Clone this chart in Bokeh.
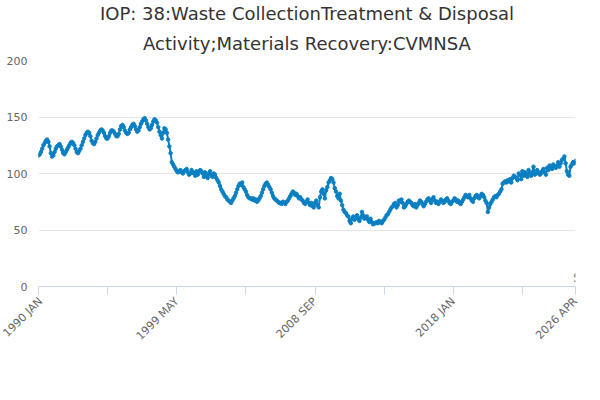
import math
from bokeh.plotting import figure
from bokeh.models import Title, FixedTicker, Legend, LegendItem, Label, Range1d
from bokeh.embed import file_html
from bokeh.resources import INLINE

years = list(range(1990, 2027))
months = ["JAN","FEB","MAR","APR","MAY","JUN","JUL","AUG","SEP","OCT","NOV","DEC"]
values = [
116,117,119,122,125,127,129,130,128,124,118,115,
116,119,122,124,125,126,124,121,118,117,119,121,
123,125,127,128,127,125,122,119,118,120,122,125,
128,131,134,136,137,136,133,129,127,126,128,131,
134,136,138,139,138,136,133,131,131,133,136,138,
138,137,135,133,133,135,139,142,143,141,138,136,
135,136,139,141,143,144,142,139,137,138,141,144,
146,148,149,147,144,141,139,140,143,146,148,147,
145,141,137,134,131,136,140,139,136,130,124,118,
110,108,106,104,102,101,102,103,101,100,102,103,
104,101,99,100,103,101,100,98,102,99,101,103,
102,100,97,101,99,96,100,102,98,97,100,99,
96,94,92,89,86,84,82,80,79,77,76,75,
74,76,78,80,83,86,89,91,90,92,88,86,
84,81,79,78,78,77,78,76,77,75,76,78,
80,83,86,89,91,92,90,88,86,83,80,78,
77,76,75,74,74,73,75,74,73,75,76,78,
80,82,84,83,81,82,80,78,79,77,76,74,
73,75,77,74,72,74,71,70,74,76,72,70,
79,84,86,82,78,85,88,92,94,96,95,92,
87,84,80,78,82,76,72,68,66,65,63,62,
58,56,60,62,59,61,63,60,58,61,66,63,
60,61,62,59,57,60,57,55,56,56,57,56,
58,57,56,58,59,61,63,64,66,68,70,71,
73,74,70,72,76,75,77,74,70,71,73,75,
76,75,74,72,71,73,70,72,74,76,75,73,
71,73,75,77,78,76,74,77,79,76,74,75,
73,75,77,76,74,75,77,78,76,74,73,75,
76,78,77,75,76,74,73,75,77,79,81,80,
79,81,78,76,75,78,80,81,79,78,80,82,
81,79,76,74,66,70,73,75,77,79,80,79,
81,82,84,86,91,92,93,92,94,93,95,92,
96,98,97,96,94,100,99,95,102,98,101,99,
97,103,100,98,101,106,99,100,103,101,99,100,
102,104,101,99,105,103,107,106,104,108,106,105,
107,110,106,109,112,113,115,109,102,99,98,106,
108,110,109,111]
labels = [f"{y} {m}" for y in years for m in months][:len(values)]
xs = list(range(len(values)))
series_name = "IOP: 38:Waste CollectionTreatment & Disposal Activity;Materials Recovery:CVMNSA"
font = "DejaVu Sans"

p = figure(frame_width=537, frame_height=226, output_backend="svg", toolbar_location=None,
           min_border_left=38, min_border_right=9, min_border_top=0, min_border_bottom=0)
p.x_range = Range1d(0, len(values) - 1)
p.y_range = Range1d(0, 200)
p.outline_line_color = None
p.add_layout(Title(text="Activity;Materials Recovery:CVMNSA", align="center",
                   text_font_size="18px", text_font_style="normal", text_color="#333333",
                   text_font=font, standoff=14, offset=0), "above")
p.add_layout(Title(text="IOP: 38:Waste CollectionTreatment & Disposal", align="center",
                   text_font_size="18px", text_font_style="normal", text_color="#333333",
                   text_font=font, standoff=0, offset=0), "above")

ln = p.line(xs, values, line_color="#0a7fc2", line_width=2)
cr = p.scatter(xs, values, size=3.5, fill_color="#0a7fc2", line_color="#0a7fc2")

ticks = [0, 56, 112, 168, 224, 280, 336, 392, len(values) - 1]
show = {0, 112, 224, 336, len(values) - 1}
p.xaxis.ticker = FixedTicker(ticks=ticks)
p.xaxis.major_label_overrides = {t: (labels[t] if t in show else "") for t in ticks}
p.xaxis.major_label_orientation = math.pi / 4
p.xaxis.axis_line_color = "#ccd6eb"
p.xaxis.major_tick_line_color = "#ccd6eb"
p.xaxis.major_tick_in = 0
p.xaxis.major_tick_out = 8
p.xaxis.minor_tick_line_color = None
p.xaxis.major_label_text_color = "#666666"
p.xaxis.major_label_text_font_size = "11px"
p.xaxis.major_label_text_font = font
p.xgrid.grid_line_color = None
p.yaxis.ticker = FixedTicker(ticks=[0, 50, 100, 150, 200])
p.yaxis.axis_line_color = None
p.yaxis.major_tick_line_color = None
p.yaxis.minor_tick_line_color = None
p.yaxis.major_label_text_color = "#666666"
p.yaxis.major_label_text_font_size = "11px"
p.yaxis.major_label_text_font = font
p.ygrid.grid_line_color = "#e6e6e6"

leg = Legend(items=[LegendItem(label=series_name, renderers=[ln, cr])],
             location="center", orientation="horizontal", border_line_color=None,
             label_text_font_size="12px", label_text_font_style="bold",
             label_text_font=font, label_text_color="#333333",
             padding=0, margin=4, glyph_width=16)
p.add_layout(leg, "below")
p.add_layout(Label(x=580, y=2, x_units="screen", y_units="screen", text="Source:",
                   text_align="right", text_font_size="12px", text_color="#666666",
                   text_font=font))

open("out.html", "w").write(file_html(p, INLINE))
